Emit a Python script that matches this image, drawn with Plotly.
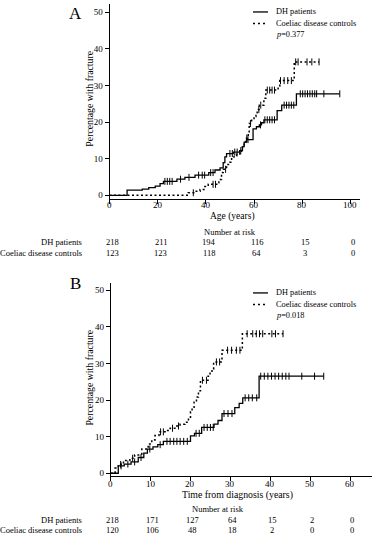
import numpy as np
import plotly.graph_objects as go

# ---------------- data ----------------
# Panel A: cumulative percentage with fracture by age
a_dh_t = [0, 7.3, 13.6, 16.3, 19.0, 21.0, 22.4, 28.0, 31.3, 35.5, 41.2, 43.8, 45.9, 47.2, 47.9, 48.6, 51.4, 54.0, 55.2, 55.9, 56.9, 59.6, 61.0, 62.2, 63.1, 64.1, 69.6, 71.5, 77.6, 95.6]
a_dh_v = [0, 1.4, 1.7, 2.1, 2.5, 3.2, 3.8, 4.4, 4.9, 5.5, 6.2, 6.9, 7.5, 8.9, 10.5, 11.4, 11.8, 12.2, 13.3, 14.5, 15.2, 18.1, 18.7, 19.2, 19.8, 20.6, 23.1, 24.6, 27.7, 27.7]
a_dh_cens = [23, 24, 25, 26, 29.5, 33, 37, 38.5, 39.5, 42, 43, 50, 51, 52, 53, 54.5, 57.5, 62.7, 64.5, 65.5, 66.5, 67.5, 68.5, 72.5, 73.5, 74.5, 75.5, 76.5, 79.2, 80.2, 81.2, 82.2, 83.2, 84.2, 85.2, 86.0, 89.0, 95.6]

a_cd_t = [0, 32.7, 35.5, 37.6, 39.6, 41.0, 44.5, 45.4, 46.5, 47.2, 48.6, 50.0, 50.7, 51.7, 52.8, 54.1, 54.8, 55.2, 55.9, 56.6, 57.6, 58.0, 59.0, 60.0, 60.8, 61.3, 62.2, 64.1, 64.9, 70.0, 70.7, 76.7, 87.0]
a_cd_v = [0, 0.7, 1.1, 1.6, 2.4, 3.0, 3.4, 4.3, 6.2, 7.1, 8.4, 9.0, 10.2, 10.8, 11.2, 12.0, 12.7, 13.5, 14.5, 15.6, 17.0, 19.6, 20.5, 21.5, 22.5, 23.4, 24.6, 26.5, 28.7, 29.8, 31.3, 36.4, 36.4]
a_cd_cens = [34.8, 43, 44, 48.2, 57, 58.5, 62, 62.8, 65.5, 66.5, 67.5, 68.5, 71, 72.5, 74, 75.5, 77.3, 78.3, 82, 84, 87.0]

# Panel B: cumulative percentage with fracture by time from diagnosis
b_dh_t = [0, 1.9, 3.4, 5.1, 6.9, 8.3, 9.2, 10.6, 11.8, 13.2, 20.0, 21.0, 22.8, 25.9, 26.9, 27.9, 31.1, 32.2, 33.1, 37.2, 53.4]
b_dh_v = [0, 2.0, 2.5, 3.1, 4.3, 5.5, 6.6, 7.2, 7.8, 8.7, 10.2, 10.9, 12.5, 13.4, 14.4, 16.3, 17.9, 19.1, 20.6, 26.5, 26.5]
b_dh_cens = [2.6, 4.3, 6.0, 7.6, 9.8, 12.4, 14.1, 14.9, 15.8, 16.6, 17.4, 18.3, 19.2, 21.4, 22.2, 23.4, 24.2, 25.0, 25.7, 28.4, 29.4, 30.4, 33.7, 34.6, 35.5, 36.6, 37.6, 38.5, 39.4, 40.3, 41.2, 42.1, 43.0, 43.9, 44.7, 47.9, 51.1, 53.4]

b_cd_t = [0, 1.1, 1.9, 3.2, 4.8, 6.0, 7.8, 9.4, 10.3, 11.1, 12.1, 14.0, 14.9, 16.1, 17.4, 18.6, 19.5, 20.0, 20.4, 20.9, 21.5, 22.0, 22.5, 24.4, 24.9, 25.4, 25.8, 27.9, 33.0, 43.2]
b_cd_v = [0, 1.4, 2.4, 3.5, 4.1, 5.0, 6.6, 8.0, 9.1, 10.3, 11.3, 11.7, 12.3, 12.9, 13.4, 13.9, 15.0, 16.8, 17.7, 19.4, 20.8, 22.5, 25.4, 26.5, 27.5, 28.5, 30.4, 33.6, 38.1, 38.1]
b_cd_cens = [2.5, 5.5, 12.5, 13.2, 15.5, 17.0, 23.0, 24.0, 26.5, 27.3, 29.3, 30.3, 31.5, 32.4, 34.2, 35.6, 36.5, 37.3, 38.1, 40.4, 41.3, 43.2]

a_ticks = [0, 20, 40, 60, 80, 100]
a_risk_dh = [218, 211, 194, 116, 15, 0]
a_risk_cd = [123, 123, 118, 64, 3, 0]
b_ticks = [0, 10, 20, 30, 40, 50, 60]
b_risk_dh = [218, 171, 127, 64, 15, 2, 0]
b_risk_cd = [120, 106, 48, 18, 2, 0, 0]

series_names = ["DH patients", "Coeliac disease controls"]
p_a = "0.377"
p_b = "0.018"

# ---------------- figure ----------------
W, H = 389, 550
FONT = "Liberation Serif, Times New Roman, serif"


def px(x, y):
    return x / W, 1 - y / H


def step_at(ts, vs, t):
    idx = np.searchsorted(ts, t, side="right") - 1
    return vs[max(idx, 0)]


fig = go.Figure()

panels = [
    ("x", "y", a_dh_t, a_dh_v, a_dh_cens, a_cd_t, a_cd_v, a_cd_cens),
    ("x2", "y2", b_dh_t, b_dh_v, b_dh_cens, b_cd_t, b_cd_v, b_cd_cens),
]
for xa, ya, dt, dv, dc, ct, cv, cc in panels:
    fig.add_trace(go.Scatter(x=dt, y=dv, mode="lines", line=dict(color="black", width=1.3, shape="hv"),
                             xaxis=xa, yaxis=ya, showlegend=False, hoverinfo="skip"))
    fig.add_trace(go.Scatter(x=ct, y=cv, mode="lines", line=dict(color="black", width=1.5, shape="hv", dash="2px,2.5px"),
                             xaxis=xa, yaxis=ya, showlegend=False, hoverinfo="skip"))
    fig.add_trace(go.Scatter(x=dc, y=[step_at(dt, dv, t) for t in dc], mode="markers",
                             marker=dict(symbol="line-ns", size=5, line=dict(color="black", width=1)),
                             xaxis=xa, yaxis=ya, showlegend=False, hoverinfo="skip"))
    fig.add_trace(go.Scatter(x=cc, y=[step_at(ct, cv, t) for t in cc], mode="markers",
                             marker=dict(symbol="line-ns", size=5, line=dict(color="black", width=1)),
                             xaxis=xa, yaxis=ya, showlegend=False, hoverinfo="skip"))

axis_common = dict(showline=True, linecolor="black", linewidth=1, ticks="outside", ticklen=4,
                   tickwidth=1, tickcolor="black", showgrid=False, zeroline=False,
                   tickfont=dict(family=FONT, size=9, color="black"))

fig.update_layout(
    width=W, height=H, margin=dict(l=0, r=0, t=0, b=0),
    paper_bgcolor="white", plot_bgcolor="white",
    xaxis=dict(domain=[109.5 / W, 360 / W], range=[0, 104], tickvals=a_ticks, showticklabels=False,
               anchor="y", **axis_common),
    yaxis=dict(domain=[1 - 199.7 / H, 1 - 4 / H], range=[-1, 52.2], dtick=10, anchor="x", **axis_common),
    xaxis2=dict(domain=[110.7 / W, 372 / W], range=[0, 65.5], tickvals=b_ticks, showticklabels=False,
                anchor="y2", **axis_common),
    yaxis2=dict(domain=[1 - 477.9 / H, 1 - 283.9 / H], range=[-0.8, 52], dtick=10, anchor="x2", **axis_common),
    showlegend=False,
)

ann = []
shapes = []


def text(x, y, s, size=8.5, xanchor="center", xref="paper", textangle=0):
    if xref == "paper":
        xx, yy = px(x, y)
    else:
        xx, yy = x, 1 - y / H
    ann.append(dict(x=xx, y=yy, xref=xref, yref="paper", text=s, showarrow=False,
                    xanchor=xanchor, yanchor="middle", textangle=textangle,
                    font=dict(family=FONT, size=size, color="black")))


# Panel letters
text(67, 14, "A", size=17, xanchor="left")
text(68, 285, "B", size=17, xanchor="left")

# Y-axis titles
text(90, 99, "Percentage with fracture", size=9.8, textangle=-90)
text(90, 379, "Percentage with fracture", size=9.8, textangle=-90)

# X tick labels
for t in a_ticks:
    text(t, 206, str(t), size=9, xref="x")
for t in b_ticks:
    text(t, 486, str(t), size=9, xref="x2")

# X-axis titles
text(232, 217, "Age (years)", size=9.5)
text(237, 497, "Time from diagnosis (years)", size=9.8)

# Legends
for y0, p in [(12, p_a), (294, p_b)]:
    x0, y0p = px(253, y0)
    x1, _ = px(268, y0)
    shapes.append(dict(type="line", xref="paper", yref="paper", x0=x0, x1=x1, y0=y0p, y1=y0p,
                       line=dict(color="black", width=1.3)))
    _, y1p = px(0, y0 + 11.5)
    shapes.append(dict(type="line", xref="paper", yref="paper", x0=x0, x1=x1, y0=y1p, y1=y1p,
                       line=dict(color="black", width=1.5, dash="2px,3px")))
    text(274, y0, series_names[0], size=8.3, xanchor="left")
    text(274, y0 + 11.5, series_names[1], size=8.3, xanchor="left")
    text(274, y0 + 23, "<i>p</i>=" + p, size=8.3, xanchor="left")

# Number at risk tables
text(230, 233, "Number at risk", size=8.5)
text(84, 243, series_names[0], size=8.5, xanchor="right")
text(84, 254, series_names[1], size=8.5, xanchor="right")
for t, n1, n2 in zip(a_ticks, a_risk_dh, a_risk_cd):
    text(t + 1.2, 243, str(n1), size=8.5, xref="x")
    text(t + 1.2, 254, str(n2), size=8.5, xref="x")

text(218, 511, "Number at risk", size=8.5)
text(84, 522, series_names[0], size=8.5, xanchor="right")
text(84, 532, series_names[1], size=8.5, xanchor="right")
for t, n1, n2 in zip(b_ticks, b_risk_dh, b_risk_cd):
    text(t + 0.5, 522, str(n1), size=8.5, xref="x2")
    text(t + 0.5, 532, str(n2), size=8.5, xref="x2")

fig.update_layout(annotations=ann, shapes=shapes)
fig.write_html("out.html", config={"displayModeBar": False},
               post_script="document.body.style.margin='0px';")
